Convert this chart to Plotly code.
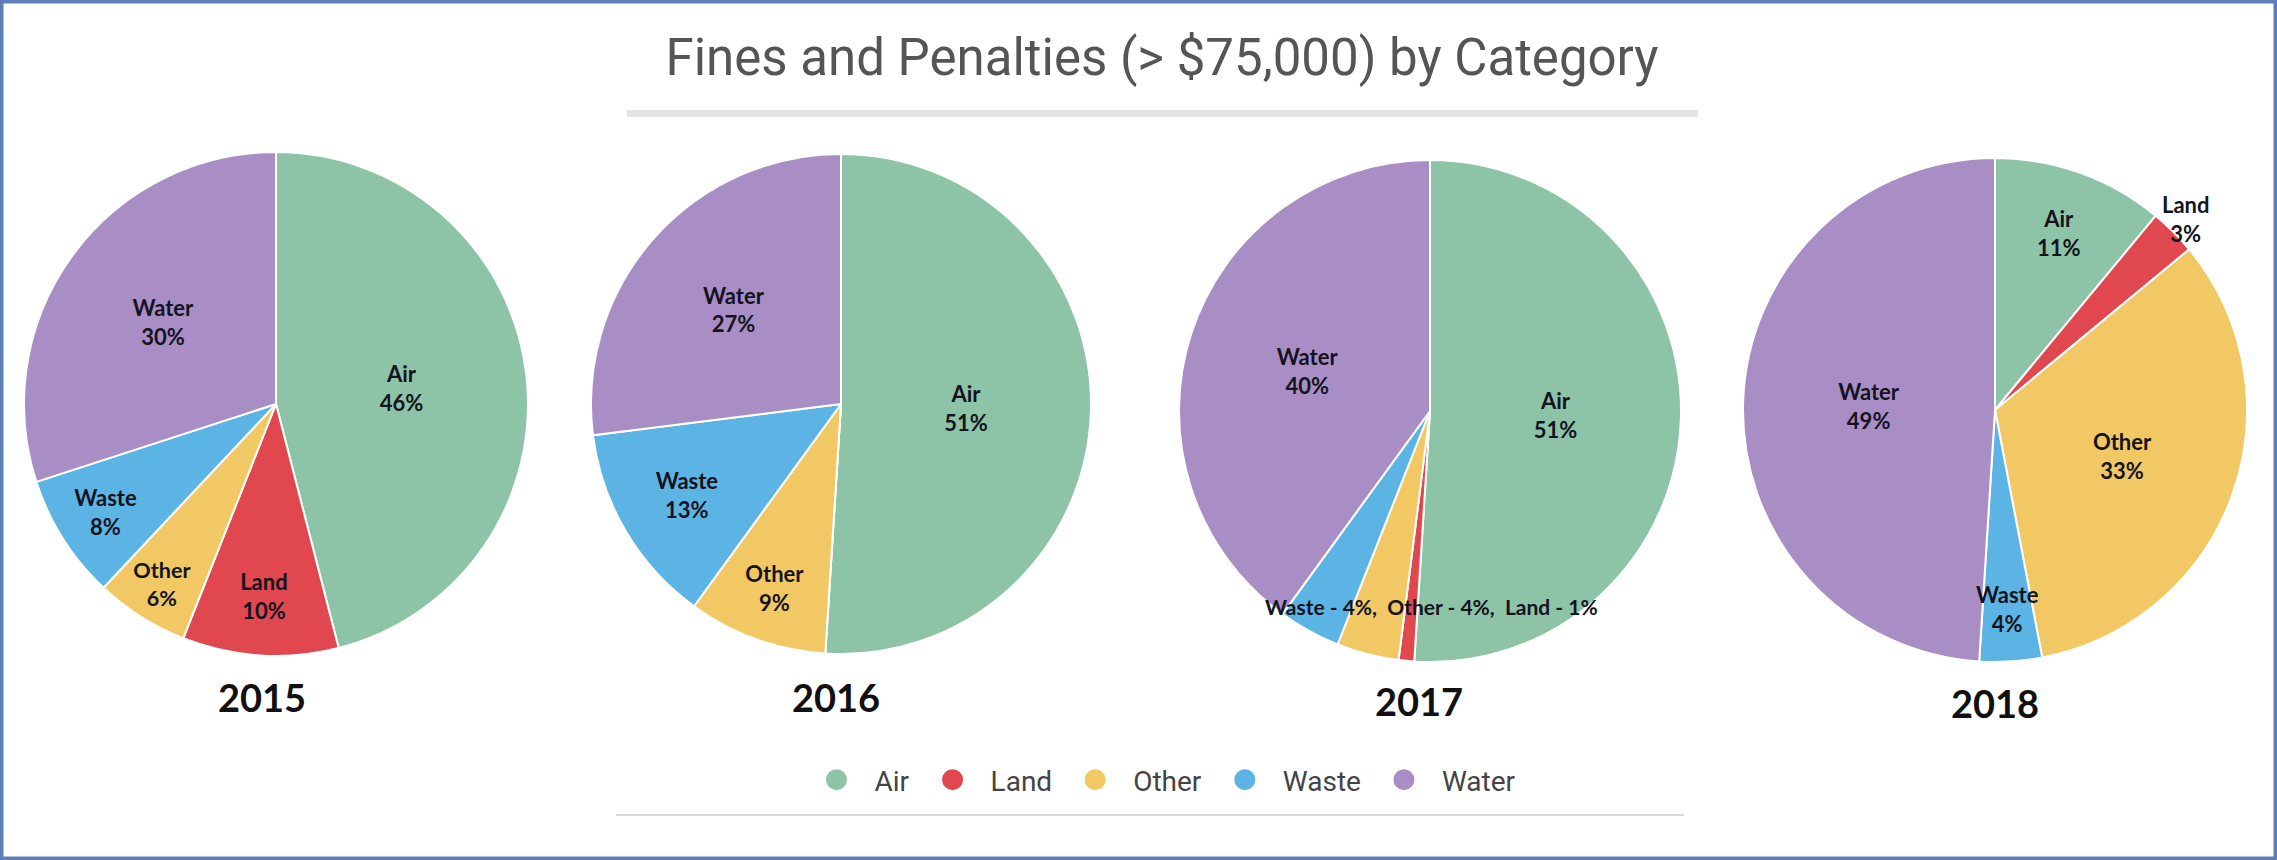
import math
import plotly.graph_objects as go

# ---------------- data ----------------
categories = ["Air", "Land", "Other", "Waste", "Water"]
colors = ["#8dc3a7", "#e0474f", "#f1c863", "#5cb4e5", "#a98ec6"]
years = ["2015", "2016", "2017", "2018"]
v2015 = [46, 10, 6, 8, 30]
v2016 = [51, 0, 9, 13, 27]
v2017 = [51, 1, 4, 4, 40]
v2018 = [11, 3, 33, 4, 49]
values_by_year = [v2015, v2016, v2017, v2018]
# slices whose label is grouped in a shared note (2017)
grouped_2017 = ["Waste", "Other", "Land"]
# 2018 labels placed along the slice mid-angle (label: fraction of radius)
placed_2018 = {"Land": 1.07, "Waste": 0.79}

W, H = 2277, 860
# pie layout (pixels): center x, center y, radius
pie_boxes = [(276, 404, 252), (841, 404, 250), (1430, 411, 251), (1995, 410, 252)]
year_label_pos = [(262, 697), (836, 697), (1419, 701), (1995, 703)]

fig = go.Figure()

label_font = dict(family="Lato", size=22, color="#141421", weight="bold")

for yi, (yr, vals) in enumerate(zip(years, values_by_year)):
    cx, cy, r = pie_boxes[yi]
    texts = []
    for c, v in zip(categories, vals):
        if v == 0 or (yr == "2017" and c in grouped_2017) or (yr == "2018" and c in placed_2018):
            texts.append("")
        else:
            texts.append(f"{c}<br>{v}%")
    fig.add_trace(go.Pie(
        labels=categories, values=vals, text=texts, textinfo="text",
        textposition="inside", insidetextorientation="horizontal",
        sort=False, direction="clockwise", rotation=0,
        marker=dict(colors=colors, line=dict(color="white", width=2)),
        textfont=label_font, insidetextfont=label_font,
        domain=dict(x=[(cx - r) / W, (cx + r) / W], y=[1 - (cy + r) / H, 1 - (cy - r) / H]),
        showlegend=False, hoverinfo="label+percent", name=yr,
    ))
    lx, ly = year_label_pos[yi]
    fig.add_annotation(text=yr, x=lx / W, y=1 - ly / H, xref="paper", yref="paper",
                       showarrow=False, xanchor="center", yanchor="middle",
                       font=dict(family="Lato", size=38, color="#111111", weight="bold"))

# labels for 2018 slices placed along the slice mid-angle (derived from values)
idx18 = years.index("2018")
cx, cy, r = pie_boxes[idx18]
total = sum(v2018)
cum = 0
for c, v in zip(categories, v2018):
    mid = (cum + v / 2) / total * 2 * math.pi
    cum += v
    if c in placed_2018:
        f = placed_2018[c]
        px = cx + f * r * math.sin(mid)
        py = cy - f * r * math.cos(mid)
        fig.add_annotation(text=f"{c}<br>{v}%", x=px / W, y=1 - py / H, xref="paper", yref="paper",
                           showarrow=False, xanchor="center", yanchor="middle",
                           font=label_font)

# grouped label for 2017 small slices
idx17 = years.index("2017")
grouped_text = ",  ".join(f"{c} - {v2017[categories.index(c)]}%" for c in grouped_2017)
cx, cy, r = pie_boxes[idx17]
fig.add_annotation(text=grouped_text, x=(cx + 2) / W, y=1 - 606 / H, xref="paper", yref="paper",
                   showarrow=False, xanchor="center", yanchor="middle",
                   font=dict(family="Lato", size=21, color="#141421", weight="bold"))

# legend entries (circle markers)
for c, col in zip(categories, colors):
    fig.add_trace(go.Scatter(x=[None], y=[None], mode="markers", name=c,
                             marker=dict(symbol="circle", size=30, color=col,
                                         line=dict(color=col, width=6)),
                             showlegend=True))

fig.update_layout(
    width=W, height=H,
    margin=dict(l=0, r=0, t=0, b=0),
    paper_bgcolor="white", plot_bgcolor="white",
    title=dict(text="Fines and Penalties (> $75,000) by Category", x=1162 / W, xanchor="center",
               y=1 - 57 / H, yanchor="middle",
               font=dict(family="Roboto", size=51, color="#555555")),
    xaxis=dict(visible=False), yaxis=dict(visible=False),
    legend=dict(orientation="h", x=1160 / W, xanchor="center", y=1 - 780 / H, yanchor="middle",
                font=dict(family="Roboto", size=28, color="#444444"),
                itemwidth=66, bgcolor="rgba(0,0,0,0)"),
    shapes=[
        dict(type="rect", xref="paper", yref="paper", x0=627 / W, x1=1698 / W,
             y0=1 - 117 / H, y1=1 - 110 / H, fillcolor="#e4e4e4", line=dict(width=0)),
        dict(type="line", xref="paper", yref="paper", x0=616 / W, x1=1684 / W,
             y0=1 - 815 / H, y1=1 - 815 / H, line=dict(color="#dadada", width=2)),
        dict(type="rect", xref="paper", yref="paper", x0=0, x1=1, y0=0, y1=1,
             line=dict(color="#5b7fb6", width=7), fillcolor="rgba(0,0,0,0)"),
    ],
)

fig.write_html("out.html")
